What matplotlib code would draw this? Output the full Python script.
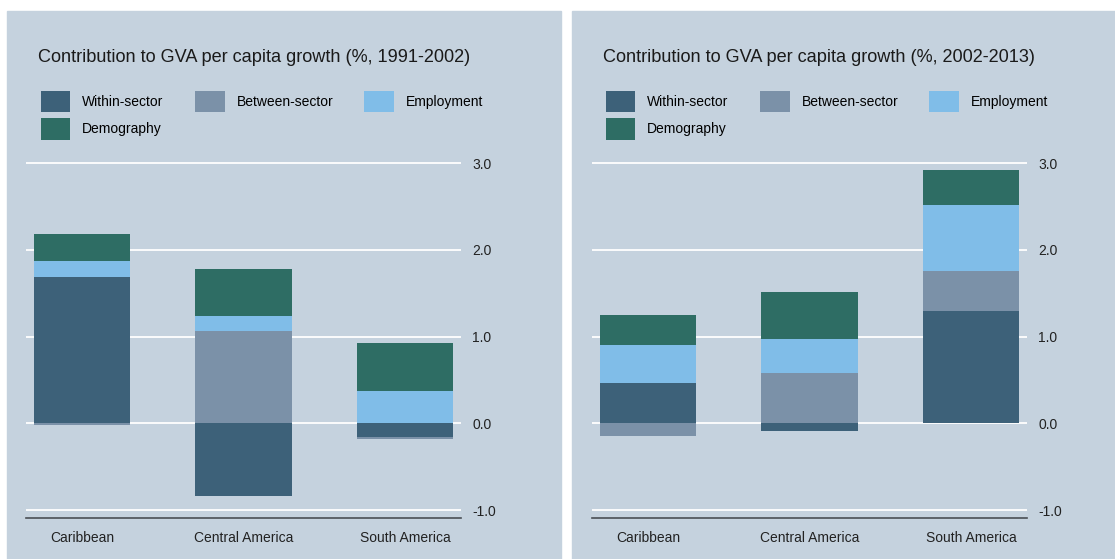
import matplotlib.pyplot as plt
from matplotlib.patches import Rectangle, Patch

regions = ["Caribbean", "Central America", "South America"]
series = ["Within-sector", "Between-sector", "Employment", "Demography"]
colors = ["#3d6179", "#7b91a8", "#80bde8", "#2e6d64"]

# 1991-2002
within_a = [1.69, -0.84, -0.16]
between_a = [-0.015, 1.06, -0.02]
employment_a = [0.18, 0.18, 0.37]
demography_a = [0.31, 0.54, 0.56]

# 2002-2013
within_b = [0.46, -0.085, 1.30]
between_b = [-0.15, 0.58, 0.45]
employment_b = [0.44, 0.39, 0.77]
demography_b = [0.35, 0.54, 0.40]

titles = ["Contribution to GVA per capita growth (%, 1991-2002)",
          "Contribution to GVA per capita growth (%, 2002-2013)"]
yticks = [-1.0, 0.0, 1.0, 2.0, 3.0]

W, H = 1115, 559
bg = "#c5d2de"
fig = plt.figure(figsize=(W / 100, H / 100), dpi=100)
plt.rcParams['font.family'] = ['Liberation Sans', 'DejaVu Sans']


def fx(px):
    return px / W


def fy(py):
    return 1 - py / H


def draw_panel(px0, px1, ax_x0, ax_x1, title, data):
    fig.patches.append(Rectangle((fx(px0), 0), fx(px1 - px0), fy(11),
                                 transform=fig.transFigure, color=bg, zorder=-5))
    top_px, bot_px = 158.7, 518
    ax = fig.add_axes([fx(ax_x0), fy(bot_px), fx(ax_x1 - ax_x0), (bot_px - top_px) / H])
    ax.set_facecolor('none')
    x = range(len(regions))
    pos = [0.0] * len(regions)
    neg = [0.0] * len(regions)
    for vals, c in zip(data, colors):
        bottoms = []
        for i, v in enumerate(vals):
            if v >= 0:
                bottoms.append(pos[i])
                pos[i] += v
            else:
                bottoms.append(neg[i])
                neg[i] += v
        ax.bar(x, vals, bottom=bottoms, width=0.6, color=c, zorder=3)
    ax.set_xlim(-0.347, 2.347)
    ax.set_ylim(-1.092, 3.05)
    ax.set_yticks(yticks)
    ax.set_yticklabels([f"{t:.1f}" for t in yticks])
    ax.yaxis.tick_right()
    ax.grid(axis='y', color='white', linewidth=1.3, zorder=1)
    ax.set_axisbelow(True)
    ax.set_xticks(list(x))
    ax.set_xticklabels(regions)
    ax.tick_params(axis='both', length=0, labelsize=10, colors='#222222')
    ax.tick_params(axis='x', pad=9)
    ax.tick_params(axis='y', pad=8)
    for s in ['top', 'left', 'right']:
        ax.spines[s].set_visible(False)
    ax.spines['bottom'].set_color('#4a4f55')
    ax.spines['bottom'].set_linewidth(1.2)

    fig.text(fx(px0 + 31), fy(57), title, fontsize=13.1, va='center', color='#1a1a1a')
    # legend fills column-wise, so order items to read row-wise
    order = [0, 3, 1, 2]
    handles = [Patch(facecolor=colors[k], edgecolor='none') for k in order]
    labels = [series[k] for k in order]
    fig.legend(handles, labels, loc='upper left',
               bbox_to_anchor=(fx(px0 + 21), fy(78)), ncol=3,
               frameon=False, fontsize=10, handlelength=2.15, handleheight=2.0,
               handletextpad=0.85, columnspacing=2.25, labelspacing=0.45)
    return ax


draw_panel(7, 561, 26, 461, titles[0],
           [within_a, between_a, employment_a, demography_a])
draw_panel(572, 1115, 592, 1027, titles[1],
           [within_b, between_b, employment_b, demography_b])

fig.savefig("out.png", dpi=100, facecolor='white')
